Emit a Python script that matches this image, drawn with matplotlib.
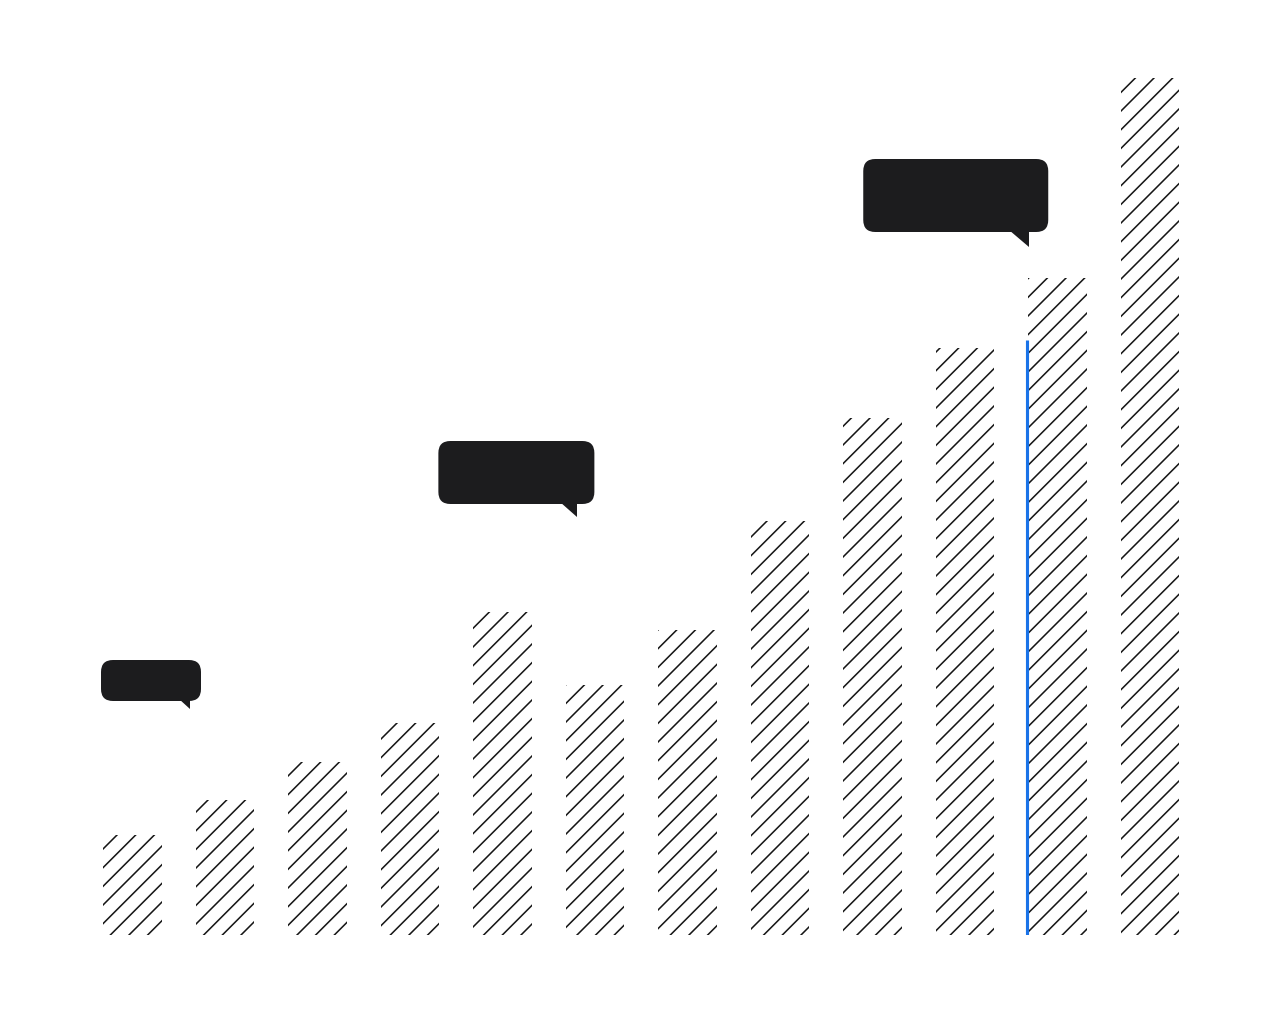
import matplotlib.pyplot as plt
from matplotlib.patches import FancyBboxPatch, Polygon

plt.rcParams['hatch.linewidth'] = 1.0

## bar values
values = [10.0, 13.5, 17.3, 21.2, 32.3, 25.0, 30.5, 41.4, 51.7, 58.7, 65.7, 85.7]
positions = list(range(len(values)))

## blue marker line
marker_index = 10
marker_value = 59.5

## empty speech-bubble callouts: centre x, bottom y (data), size in pixels
callout_x = [0.20, 4.15, 8.90]
callout_y = [23.4, 43.1, 70.3]
callout_w = [100, 156, 185]
callout_h = [41, 63, 73]

dpi = 112
fig = plt.figure(figsize=(1280 / dpi, 1024 / dpi), dpi=dpi, facecolor='white')
ax_w, ax_h = 1110, 900
ax = fig.add_axes([86.25 / 1280, 89 / 1024, ax_w / 1280, ax_h / 1024])
xmin, xmax, ymin, ymax = -0.5, 11.5, 0, 90
ax.set_xlim(xmin, xmax)
ax.set_ylim(ymin, ymax)
ax.axis('off')

bar_width = 0.63
ax.bar(positions, values, width=bar_width, facecolor='none',
       edgecolor='#151515', linewidth=0, hatch='//')

ax.vlines(marker_index - bar_width / 2 - 0.02, 0, marker_value,
          color='#1a73e8', linewidth=2.0)

## pixel -> data unit sizes
sx = (xmax - xmin) / ax_w
sy = (ymax - ymin) / ax_h

box_color = '#1c1c1e'
for cx, by, w, h in zip(callout_x, callout_y, callout_w, callout_h):
    bw, bh = w * sx, h * sy
    x0 = cx - bw / 2
    box = FancyBboxPatch((x0, by), bw, bh,
                         boxstyle='round,pad=0,rounding_size=%f' % (12 * sx),
                         mutation_aspect=sy / sx,
                         facecolor=box_color, edgecolor='none', zorder=5)
    ax.add_patch(box)
    right = x0 + bw
    inset, tw, depth = 0.27 * h, 0.27 * h, 0.2 * h
    tail = Polygon([(right - (inset + tw) * sx, by + 2 * sy),
                    (right - inset * sx, by + 2 * sy),
                    (right - inset * sx, by - depth * sy)],
                   closed=True, facecolor=box_color, edgecolor='none', zorder=5)
    ax.add_patch(tail)

fig.savefig('out.png', dpi=dpi, facecolor='white')
